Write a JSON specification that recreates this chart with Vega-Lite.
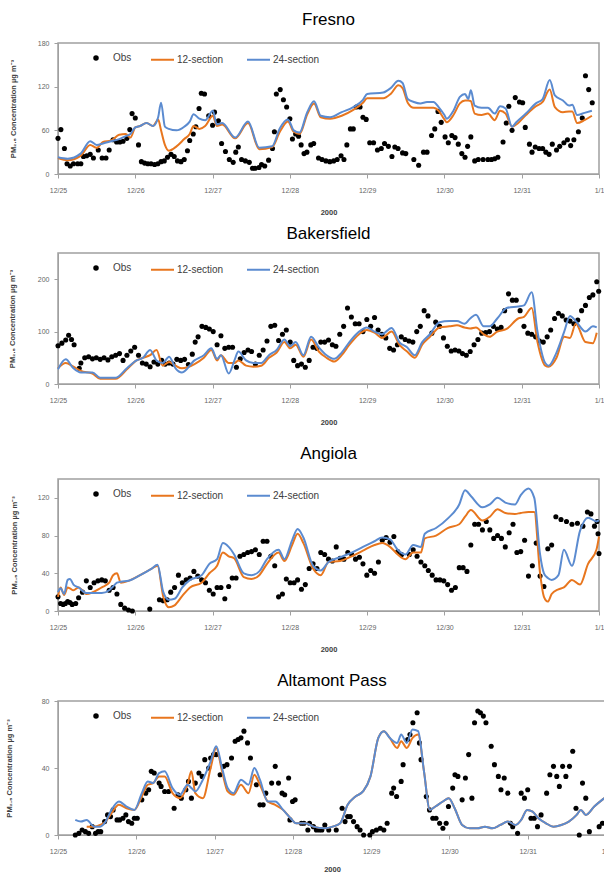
{
"$schema": "https://vega.github.io/schema/vega-lite/v6.json",
"padding": {"left": 4, "top": 10, "right": 0, "bottom": 0},
"config": {
  "font": "Liberation Sans",
  "view": {"stroke": "#a0a0a0", "strokeWidth": 1.5},
  "title": {"font": "Liberation Sans", "fontSize": 17, "fontWeight": "normal", "color": "#000000"},
  "axis": {"labelFont": "Liberation Sans", "labelFontSize": 7, "labelColor": "#666666", "titleFont": "Liberation Sans", "titleFontSize": 7.5, "titleFontWeight": "bold", "titleColor": "#404040", "tickColor": "#a0a0a0", "domainColor": "#a0a0a0", "grid": false, "tickSize": 4},
  "legend": {"padding": 0, "labelFont": "Liberation Sans", "labelFontSize": 10, "labelColor": "#404040"}
},
"datasets": {
"f_o": [{"t":0,"v":49},{"t":0.9,"v":61},{"t":2,"v":35},{"t":2.8,"v":14},{"t":3.8,"v":11},{"t":4.8,"v":14},{"t":6.1,"v":14},{"t":7.1,"v":14},{"t":7.9,"v":24},{"t":8.9,"v":25},{"t":10,"v":27},{"t":11,"v":22},{"t":12.5,"v":33},{"t":13.7,"v":22},{"t":14.9,"v":22},{"t":15.9,"v":33},{"t":17.1,"v":47},{"t":18.2,"v":44},{"t":19.2,"v":44},{"t":20.2,"v":45},{"t":21.4,"v":49},{"t":22.3,"v":61},{"t":23,"v":83},{"t":24,"v":77},{"t":25,"v":40},{"t":25.9,"v":17},{"t":26.9,"v":15},{"t":27.9,"v":14},{"t":28.9,"v":14},{"t":30,"v":13},{"t":31,"v":14},{"t":32,"v":17},{"t":33,"v":18},{"t":34,"v":23},{"t":35.1,"v":27},{"t":36.1,"v":24},{"t":37.1,"v":18},{"t":38.2,"v":17},{"t":39.2,"v":20},{"t":40.2,"v":32},{"t":40.9,"v":46},{"t":42,"v":55},{"t":42.8,"v":65},{"t":43.8,"v":90},{"t":44.5,"v":111},{"t":45.5,"v":110},{"t":46.8,"v":80},{"t":48,"v":67},{"t":48.6,"v":85},{"t":49.8,"v":73},{"t":50.8,"v":42},{"t":52,"v":31},{"t":53.2,"v":20},{"t":54.4,"v":16},{"t":55.2,"v":30},{"t":56,"v":37},{"t":57,"v":20},{"t":58.2,"v":18},{"t":59.4,"v":16},{"t":60.4,"v":8},{"t":61.2,"v":8},{"t":62.4,"v":9},{"t":63.2,"v":13},{"t":64.2,"v":11},{"t":65.4,"v":19},{"t":66.6,"v":35},{"t":67.2,"v":58},{"t":67.8,"v":110},{"t":69,"v":116},{"t":70,"v":102},{"t":71,"v":92},{"t":72,"v":76},{"t":72.8,"v":48},{"t":73.8,"v":55},{"t":74.7,"v":52},{"t":75.5,"v":40},{"t":76.4,"v":28},{"t":77.3,"v":30},{"t":78.5,"v":40},{"t":79.4,"v":42},{"t":80.9,"v":22},{"t":82,"v":20},{"t":83.2,"v":18},{"t":84.4,"v":17},{"t":85.6,"v":18},{"t":86.7,"v":20},{"t":87.9,"v":25},{"t":88.8,"v":20},{"t":89.7,"v":40},{"t":90.8,"v":62},{"t":91.7,"v":62},{"t":92.6,"v":92},{"t":93.8,"v":92},{"t":94.7,"v":78},{"t":95.7,"v":75},{"t":96.8,"v":43},{"t":98,"v":43},{"t":99.2,"v":33},{"t":100.4,"v":35},{"t":101.4,"v":42},{"t":102.6,"v":38},{"t":103.7,"v":24},{"t":104.6,"v":37},{"t":105.6,"v":35},{"t":107,"v":29},{"t":108,"v":28},{"t":110.5,"v":20},{"t":112,"v":12},{"t":113.5,"v":30},{"t":114.6,"v":30},{"t":116,"v":53},{"t":117,"v":62},{"t":118,"v":86},{"t":119,"v":71},{"t":120.2,"v":51},{"t":121.2,"v":43},{"t":122.3,"v":53},{"t":123.3,"v":50},{"t":124.3,"v":41},{"t":125.4,"v":28},{"t":126.4,"v":23},{"t":127.2,"v":38},{"t":128.2,"v":51},{"t":129.4,"v":18},{"t":130.5,"v":20},{"t":132,"v":20},{"t":133.5,"v":20},{"t":134.6,"v":20},{"t":135.6,"v":21},{"t":136.6,"v":23},{"t":138.2,"v":44},{"t":139.2,"v":70},{"t":140,"v":93},{"t":141,"v":60},{"t":142,"v":105},{"t":143.3,"v":99},{"t":144.3,"v":98},{"t":145.1,"v":64},{"t":146.4,"v":41},{"t":147.2,"v":30},{"t":148.2,"v":37},{"t":149.4,"v":35},{"t":150.5,"v":35},{"t":151.5,"v":30},{"t":152.5,"v":27},{"t":153.5,"v":41},{"t":154.8,"v":33},{"t":155.8,"v":38},{"t":157.1,"v":43},{"t":158.2,"v":47},{"t":159.2,"v":39},{"t":160.2,"v":47},{"t":161.6,"v":58},{"t":162.8,"v":77},{"t":163.8,"v":135},{"t":164.8,"v":116},{"t":165.9,"v":98}],
"f_m": [{"t":0,"a":22,"b":23},{"t":3,"a":19,"b":21},{"t":7,"a":25,"b":28},{"t":10,"a":40,"b":45},{"t":12,"a":36,"b":40},{"t":14,"a":44,"b":42},{"t":16.5,"a":46,"b":45},{"t":19,"a":54,"b":48},{"t":21,"a":55,"b":52},{"t":22.5,"a":50,"b":55},{"t":24,"a":64,"b":64},{"t":25.5,"a":66,"b":66},{"t":27.5,"a":70,"b":70},{"t":29.5,"a":66,"b":66},{"t":31.1,"a":75,"b":78},{"t":32,"a":60,"b":98},{"t":33.2,"a":40,"b":65},{"t":34.4,"a":32,"b":62},{"t":36.8,"a":38,"b":60},{"t":39.2,"a":48,"b":65},{"t":40.9,"a":55,"b":72},{"t":42.1,"a":66,"b":82},{"t":43.9,"a":62,"b":76},{"t":45.7,"a":66,"b":74},{"t":48.1,"a":80,"b":87},{"t":49.3,"a":66,"b":68},{"t":51,"a":68,"b":70},{"t":55,"a":49,"b":50},{"t":59,"a":70,"b":72},{"t":62.5,"a":34,"b":36},{"t":66.5,"a":37,"b":38},{"t":68.9,"a":58,"b":63},{"t":71.4,"a":72,"b":75},{"t":73.2,"a":58,"b":60},{"t":75,"a":55,"b":57},{"t":77.4,"a":82,"b":85},{"t":79.5,"a":97,"b":100},{"t":81.6,"a":78,"b":80},{"t":84.5,"a":76,"b":78},{"t":88.1,"a":80,"b":85},{"t":91.7,"a":88,"b":92},{"t":94.7,"a":98,"b":102},{"t":96,"a":104,"b":110},{"t":101,"a":104,"b":112},{"t":103.3,"a":110,"b":118},{"t":105.7,"a":122,"b":128},{"t":107,"a":118,"b":125},{"t":108.6,"a":98,"b":103},{"t":110.5,"a":91,"b":99},{"t":112.5,"a":91,"b":97},{"t":114.6,"a":91,"b":99},{"t":116.6,"a":91,"b":99},{"t":118.2,"a":87,"b":92},{"t":120,"a":75,"b":81},{"t":120.7,"a":71,"b":76},{"t":122.8,"a":81,"b":87},{"t":124.8,"a":97,"b":106},{"t":126.4,"a":101,"b":110},{"t":127.4,"a":101,"b":103},{"t":128.2,"a":100,"b":115},{"t":129.4,"a":83,"b":94},{"t":131.5,"a":81,"b":91},{"t":133.5,"a":83,"b":91},{"t":135.6,"a":74,"b":83},{"t":137.3,"a":87,"b":93},{"t":139,"a":83,"b":90},{"t":141,"a":65,"b":65},{"t":142.3,"a":68,"b":71},{"t":145.3,"a":81,"b":83},{"t":148.4,"a":93,"b":97},{"t":150.5,"a":99,"b":103},{"t":152.7,"a":116,"b":129},{"t":154.3,"a":92,"b":108},{"t":156.8,"a":85,"b":101},{"t":158.7,"a":86,"b":94},{"t":159.7,"a":86,"b":95},{"t":161.2,"a":70,"b":81},{"t":163.5,"a":74,"b":84},{"t":165.8,"a":80,"b":87}],
"b_o": [{"t":0,"v":73},{"t":1.2,"v":78},{"t":2.4,"v":84},{"t":3.3,"v":93},{"t":4.2,"v":85},{"t":5,"v":75},{"t":6.6,"v":30},{"t":7.1,"v":40},{"t":8.3,"v":50},{"t":9.5,"v":52},{"t":10.7,"v":48},{"t":11.9,"v":50},{"t":13.1,"v":47},{"t":14.3,"v":50},{"t":15.5,"v":46},{"t":16.7,"v":52},{"t":17.9,"v":55},{"t":19.1,"v":58},{"t":20.2,"v":45},{"t":21.4,"v":55},{"t":22.6,"v":63},{"t":23.8,"v":70},{"t":25,"v":55},{"t":26.2,"v":40},{"t":27.4,"v":38},{"t":28.6,"v":33},{"t":29.8,"v":42},{"t":31,"v":38},{"t":32.2,"v":45},{"t":33.3,"v":38},{"t":34.5,"v":40},{"t":35.7,"v":38},{"t":36.9,"v":47},{"t":38.1,"v":45},{"t":39.3,"v":47},{"t":40.5,"v":37},{"t":41.7,"v":57},{"t":42.6,"v":80},{"t":43.5,"v":90},{"t":44.7,"v":110},{"t":45.9,"v":108},{"t":47,"v":105},{"t":48.2,"v":100},{"t":49.4,"v":75},{"t":50.6,"v":92},{"t":51.8,"v":68},{"t":53,"v":70},{"t":54.2,"v":70},{"t":55.4,"v":32},{"t":56.6,"v":48},{"t":57.8,"v":60},{"t":59,"v":65},{"t":60.1,"v":62},{"t":61.3,"v":38},{"t":62.5,"v":55},{"t":63.7,"v":65},{"t":64.9,"v":82},{"t":66.1,"v":110},{"t":67.3,"v":112},{"t":68.5,"v":83},{"t":69.7,"v":95},{"t":70.9,"v":103},{"t":72.1,"v":80},{"t":73.2,"v":45},{"t":74.4,"v":35},{"t":75.6,"v":38},{"t":76.8,"v":32},{"t":78,"v":45},{"t":79.2,"v":70},{"t":80.4,"v":68},{"t":81.6,"v":80},{"t":82.8,"v":80},{"t":84,"v":84},{"t":85.2,"v":75},{"t":86.3,"v":72},{"t":87.5,"v":95},{"t":88.7,"v":110},{"t":89.9,"v":145},{"t":91.1,"v":128},{"t":92.3,"v":115},{"t":93.5,"v":115},{"t":94.7,"v":100},{"t":95.9,"v":123},{"t":97.1,"v":110},{"t":98.3,"v":127},{"t":99.4,"v":103},{"t":100.6,"v":95},{"t":101.8,"v":88},{"t":103,"v":68},{"t":104.2,"v":65},{"t":105.4,"v":75},{"t":106.6,"v":90},{"t":107.8,"v":85},{"t":109,"v":82},{"t":110.2,"v":80},{"t":111.4,"v":100},{"t":112.5,"v":110},{"t":113.7,"v":140},{"t":114.9,"v":130},{"t":116.1,"v":97},{"t":117.3,"v":118},{"t":118.5,"v":110},{"t":119.7,"v":88},{"t":120.9,"v":72},{"t":122.1,"v":63},{"t":123.3,"v":65},{"t":124.5,"v":63},{"t":125.6,"v":58},{"t":126.8,"v":55},{"t":128,"v":62},{"t":129.2,"v":75},{"t":130.4,"v":85},{"t":131.6,"v":97},{"t":132.8,"v":98},{"t":134,"v":100},{"t":135.2,"v":110},{"t":136.4,"v":105},{"t":137.6,"v":108},{"t":138.7,"v":140},{"t":139.9,"v":172},{"t":141.1,"v":160},{"t":142.3,"v":160},{"t":143.5,"v":140},{"t":144.7,"v":110},{"t":145.9,"v":97},{"t":147.1,"v":95},{"t":148.3,"v":90},{"t":149.5,"v":82},{"t":150.7,"v":80},{"t":151.9,"v":90},{"t":153,"v":103},{"t":154.2,"v":125},{"t":155.4,"v":135},{"t":156.6,"v":130},{"t":157.8,"v":122},{"t":159,"v":120},{"t":160.2,"v":115},{"t":161.4,"v":122},{"t":162.6,"v":140},{"t":163.8,"v":150},{"t":165,"v":165},{"t":166.1,"v":170},{"t":167.3,"v":195},{"t":167.9,"v":177}],
"b_m": [{"t":0,"a":30,"b":28},{"t":2.4,"a":40,"b":47},{"t":4.8,"a":33,"b":30},{"t":7.1,"a":25,"b":22},{"t":10.7,"a":20,"b":22},{"t":13.1,"a":10,"b":12},{"t":17.9,"a":10,"b":12},{"t":21.4,"a":28,"b":30},{"t":24.4,"a":45,"b":45},{"t":26.4,"a":50,"b":50},{"t":28.6,"a":55,"b":65},{"t":30.6,"a":65,"b":45},{"t":32.5,"a":35,"b":40},{"t":34.5,"a":42,"b":52},{"t":36.5,"a":35,"b":30},{"t":38.5,"a":30,"b":22},{"t":42.4,"a":38,"b":45},{"t":45.3,"a":50,"b":55},{"t":47.6,"a":65,"b":68},{"t":49.4,"a":45,"b":48},{"t":50.6,"a":55,"b":55},{"t":53,"a":40,"b":20},{"t":54.8,"a":40,"b":45},{"t":56,"a":45,"b":62},{"t":58.4,"a":35,"b":45},{"t":60.7,"a":33,"b":40},{"t":63.1,"a":35,"b":40},{"t":65.5,"a":50,"b":55},{"t":67.9,"a":60,"b":65},{"t":70.3,"a":80,"b":85},{"t":72.1,"a":68,"b":72},{"t":73.8,"a":75,"b":80},{"t":76.2,"a":52,"b":55},{"t":78.6,"a":85,"b":90},{"t":81,"a":62,"b":70},{"t":83.4,"a":50,"b":55},{"t":85.8,"a":43,"b":48},{"t":88.1,"a":55,"b":60},{"t":90.5,"a":75,"b":80},{"t":93.5,"a":95,"b":100},{"t":95.9,"a":103,"b":108},{"t":98.3,"a":98,"b":100},{"t":100.6,"a":88,"b":95},{"t":103.6,"a":100,"b":107},{"t":106,"a":75,"b":80},{"t":108.4,"a":62,"b":70},{"t":110.8,"a":50,"b":55},{"t":113.1,"a":75,"b":80},{"t":115.5,"a":90,"b":95},{"t":118.5,"a":108,"b":118},{"t":121.5,"a":110,"b":120},{"t":123.9,"a":112,"b":120},{"t":126.2,"a":108,"b":115},{"t":128,"a":106,"b":125},{"t":129.8,"a":108,"b":132},{"t":132.2,"a":95,"b":110},{"t":134,"a":90,"b":110},{"t":136.4,"a":100,"b":125},{"t":139.3,"a":105,"b":145},{"t":142.9,"a":125,"b":148},{"t":144.7,"a":128,"b":150},{"t":147.1,"a":145,"b":175},{"t":148.9,"a":80,"b":100},{"t":151.3,"a":35,"b":40},{"t":152.4,"a":33,"b":35},{"t":154.8,"a":50,"b":60},{"t":157.2,"a":90,"b":100},{"t":159,"a":88,"b":130},{"t":160.8,"a":115,"b":120},{"t":163.8,"a":80,"b":100},{"t":166.1,"a":78,"b":110},{"t":167.3,"a":98,"b":108}],
"a_o": [{"t":0,"v":15},{"t":0.8,"v":8},{"t":1.6,"v":7},{"t":2.3,"v":8},{"t":3,"v":10},{"t":3.7,"v":9},{"t":4.4,"v":7},{"t":5.5,"v":8},{"t":6.4,"v":14},{"t":7.6,"v":20},{"t":8.8,"v":32},{"t":10,"v":25},{"t":11.2,"v":30},{"t":12.4,"v":32},{"t":13.6,"v":33},{"t":14.7,"v":32},{"t":15.9,"v":22},{"t":17.1,"v":25},{"t":18.3,"v":18},{"t":19.5,"v":7},{"t":20.7,"v":3},{"t":21.9,"v":1},{"t":23.1,"v":0},{"t":28.5,"v":2},{"t":31.5,"v":12},{"t":32.7,"v":11},{"t":33.9,"v":12},{"t":35,"v":20},{"t":36.2,"v":25},{"t":37.4,"v":38},{"t":38.6,"v":30},{"t":39.8,"v":33},{"t":41,"v":35},{"t":42.2,"v":42},{"t":43.4,"v":37},{"t":44.6,"v":33},{"t":45.8,"v":30},{"t":47,"v":22},{"t":48.2,"v":18},{"t":49.4,"v":25},{"t":50.6,"v":25},{"t":51.8,"v":13},{"t":53,"v":26},{"t":54.1,"v":35},{"t":55.3,"v":35},{"t":56.5,"v":58},{"t":57.7,"v":60},{"t":58.9,"v":62},{"t":60.1,"v":63},{"t":61.3,"v":65},{"t":62.5,"v":60},{"t":63.7,"v":74},{"t":64.9,"v":74},{"t":66.1,"v":58},{"t":67.3,"v":48},{"t":68.5,"v":15},{"t":69.7,"v":18},{"t":70.9,"v":34},{"t":72.1,"v":30},{"t":73.3,"v":30},{"t":74.4,"v":33},{"t":75.6,"v":23},{"t":76.8,"v":28},{"t":78,"v":45},{"t":79.2,"v":50},{"t":80.4,"v":45},{"t":81.6,"v":62},{"t":82.8,"v":60},{"t":84,"v":55},{"t":85.2,"v":53},{"t":86.4,"v":68},{"t":87.6,"v":56},{"t":88.8,"v":55},{"t":90,"v":62},{"t":91.2,"v":60},{"t":92.4,"v":55},{"t":93.6,"v":57},{"t":94.7,"v":50},{"t":95.9,"v":38},{"t":97.1,"v":43},{"t":98.3,"v":40},{"t":99.5,"v":52},{"t":100.7,"v":75},{"t":101.9,"v":78},{"t":103.1,"v":73},{"t":104.3,"v":79},{"t":105.5,"v":63},{"t":106.7,"v":60},{"t":109.1,"v":60},{"t":110.3,"v":65},{"t":111.5,"v":58},{"t":112.7,"v":52},{"t":113.9,"v":48},{"t":115,"v":43},{"t":116.2,"v":38},{"t":117.4,"v":33},{"t":118.6,"v":33},{"t":119.8,"v":32},{"t":121,"v":28},{"t":122.2,"v":22},{"t":123.4,"v":25},{"t":124.6,"v":46},{"t":125.8,"v":46},{"t":127,"v":42},{"t":128.2,"v":70},{"t":129.4,"v":92},{"t":130.6,"v":92},{"t":131.8,"v":86},{"t":133,"v":95},{"t":134.1,"v":86},{"t":135.3,"v":77},{"t":136.5,"v":80},{"t":137.7,"v":77},{"t":138.9,"v":68},{"t":140.1,"v":83},{"t":141.3,"v":92},{"t":142.5,"v":62},{"t":143.7,"v":63},{"t":144.9,"v":75},{"t":146.1,"v":37},{"t":147.3,"v":48},{"t":148.5,"v":72},{"t":149.7,"v":37},{"t":150.9,"v":26},{"t":152.1,"v":66},{"t":153.3,"v":70},{"t":154.6,"v":100},{"t":156.2,"v":97},{"t":157.9,"v":95},{"t":159.6,"v":92},{"t":161.3,"v":93},{"t":163,"v":90},{"t":164.4,"v":105},{"t":165.5,"v":103},{"t":166.6,"v":90},{"t":167.4,"v":95},{"t":167.7,"v":82},{"t":168,"v":61}],
"a_m": [{"t":0,"a":15,"b":20},{"t":0.8,"a":25,"b":24},{"t":1.9,"a":17,"b":18},{"t":3,"a":25,"b":33},{"t":3.7,"a":24,"b":34},{"t":4.8,"a":22,"b":28},{"t":6.4,"a":25,"b":25},{"t":8.8,"a":18,"b":19},{"t":13.6,"a":25,"b":19},{"t":15.9,"a":30,"b":22},{"t":17.1,"a":38,"b":26},{"t":18.3,"a":40,"b":30},{"t":19.5,"a":30,"b":31},{"t":21.9,"a":32,"b":32},{"t":25.5,"a":38,"b":38},{"t":29.1,"a":45,"b":45},{"t":30.9,"a":48,"b":49},{"t":32.7,"a":15,"b":20},{"t":34.4,"a":4,"b":12},{"t":36.2,"a":6,"b":13},{"t":38.6,"a":16,"b":25},{"t":41,"a":25,"b":33},{"t":44.6,"a":30,"b":38},{"t":47,"a":40,"b":50},{"t":49.4,"a":48,"b":55},{"t":51.2,"a":62,"b":72},{"t":53,"a":58,"b":68},{"t":54.7,"a":56,"b":60},{"t":57.7,"a":36,"b":40},{"t":60.1,"a":34,"b":38},{"t":62.5,"a":38,"b":42},{"t":64.9,"a":50,"b":55},{"t":68.5,"a":62,"b":65},{"t":70.3,"a":53,"b":55},{"t":72.7,"a":70,"b":75},{"t":74.4,"a":82,"b":87},{"t":76.2,"a":72,"b":78},{"t":79.2,"a":45,"b":48},{"t":81.6,"a":38,"b":43},{"t":84,"a":52,"b":52},{"t":87.6,"a":53,"b":57},{"t":91.2,"a":58,"b":62},{"t":94.7,"a":64,"b":68},{"t":98.3,"a":70,"b":74},{"t":100.7,"a":72,"b":78},{"t":103.1,"a":68,"b":76},{"t":105.5,"a":60,"b":65},{"t":107.9,"a":55,"b":60},{"t":110.3,"a":62,"b":70},{"t":112.7,"a":62,"b":68},{"t":113.9,"a":77,"b":82},{"t":117.4,"a":80,"b":88},{"t":121,"a":88,"b":98},{"t":124.6,"a":92,"b":113},{"t":126.4,"a":100,"b":128},{"t":128.2,"a":107,"b":122},{"t":131.8,"a":96,"b":110},{"t":134.1,"a":100,"b":113},{"t":136.5,"a":108,"b":120},{"t":138.9,"a":104,"b":115},{"t":141.9,"a":103,"b":113},{"t":143.7,"a":104,"b":123},{"t":146.1,"a":105,"b":130},{"t":147.9,"a":105,"b":120},{"t":149.7,"a":40,"b":60},{"t":150.9,"a":15,"b":40},{"t":152.1,"a":10,"b":35},{"t":153.3,"a":18,"b":33},{"t":155.4,"a":23,"b":38},{"t":157.1,"a":25,"b":65},{"t":159.6,"a":33,"b":48},{"t":162.1,"a":28,"b":85},{"t":164.6,"a":50,"b":99},{"t":167.2,"a":65,"b":95},{"t":168,"a":79,"b":96}],
"t_o": [{"t":5.3,"v":0},{"t":6.4,"v":1},{"t":7.4,"v":3},{"t":8.4,"v":2},{"t":9.4,"v":1},{"t":10.5,"v":5},{"t":11.5,"v":1},{"t":12.3,"v":2},{"t":13.1,"v":2},{"t":14.3,"v":8},{"t":15.2,"v":12},{"t":16.1,"v":11},{"t":16.9,"v":15},{"t":18.1,"v":9},{"t":18.9,"v":9},{"t":19.9,"v":10},{"t":20.8,"v":12},{"t":21.6,"v":8},{"t":22.6,"v":7},{"t":23.4,"v":10},{"t":24.3,"v":10},{"t":25.7,"v":21},{"t":26.9,"v":25},{"t":27.8,"v":27},{"t":28.6,"v":38},{"t":29.5,"v":37},{"t":31,"v":31},{"t":31.6,"v":29},{"t":32.7,"v":26},{"t":33.9,"v":26},{"t":35.6,"v":16},{"t":36.8,"v":24},{"t":37.8,"v":22},{"t":39.2,"v":27},{"t":40,"v":32},{"t":40.9,"v":22},{"t":42.1,"v":31},{"t":43.2,"v":37},{"t":44.2,"v":35},{"t":45,"v":45},{"t":46.2,"v":40},{"t":46.8,"v":46},{"t":47.7,"v":48},{"t":48.5,"v":48},{"t":49.7,"v":36},{"t":50.8,"v":41},{"t":51.8,"v":42},{"t":53.2,"v":46},{"t":54.3,"v":56},{"t":55.2,"v":57},{"t":56.1,"v":58},{"t":57,"v":62},{"t":58.1,"v":55},{"t":59,"v":46},{"t":60.8,"v":30},{"t":61.9,"v":18},{"t":62.9,"v":18},{"t":63.7,"v":25},{"t":65.5,"v":31},{"t":66.6,"v":41},{"t":67.6,"v":31},{"t":68.7,"v":25},{"t":69.5,"v":24},{"t":70.7,"v":34},{"t":71.1,"v":9},{"t":71.9,"v":20},{"t":72.7,"v":21},{"t":74.6,"v":7},{"t":75.4,"v":7},{"t":76.6,"v":3},{"t":77.1,"v":7},{"t":78.3,"v":5},{"t":79.2,"v":3},{"t":80.1,"v":3},{"t":80.9,"v":3},{"t":81.8,"v":6},{"t":83,"v":3},{"t":85.3,"v":3},{"t":87.1,"v":16},{"t":88,"v":8},{"t":88.8,"v":11},{"t":89.6,"v":11},{"t":90.6,"v":8},{"t":91.7,"v":5},{"t":92.6,"v":3},{"t":93.7,"v":0},{"t":95.6,"v":0},{"t":96.4,"v":2},{"t":97.6,"v":3},{"t":98.8,"v":4},{"t":99.9,"v":3},{"t":100.9,"v":7},{"t":102.3,"v":25},{"t":102.9,"v":28},{"t":103.8,"v":23},{"t":105.2,"v":32},{"t":105.8,"v":42},{"t":107.2,"v":57},{"t":107.9,"v":60},{"t":108.8,"v":67},{"t":110.1,"v":73},{"t":110.8,"v":55},{"t":111.3,"v":45},{"t":112.9,"v":23},{"t":113.9,"v":15},{"t":114.9,"v":10},{"t":115.9,"v":10},{"t":117,"v":7},{"t":118,"v":4},{"t":119,"v":7},{"t":119.7,"v":17},{"t":121,"v":28},{"t":121.7,"v":36},{"t":122.6,"v":35},{"t":123.9,"v":21},{"t":124.9,"v":34},{"t":125.9,"v":48},{"t":126.9,"v":22},{"t":127.7,"v":67},{"t":128.7,"v":74},{"t":129.5,"v":73},{"t":130.4,"v":71},{"t":131.2,"v":67},{"t":132.8,"v":53},{"t":133.8,"v":42},{"t":135,"v":35},{"t":135.8,"v":27},{"t":136.8,"v":34},{"t":137.9,"v":25},{"t":138.7,"v":7},{"t":139.4,"v":5},{"t":140.9,"v":1},{"t":142,"v":25},{"t":143,"v":22},{"t":144,"v":27},{"t":145,"v":10},{"t":146,"v":10},{"t":147,"v":5},{"t":148.1,"v":12},{"t":149.8,"v":25},{"t":150.8,"v":36},{"t":151.9,"v":41},{"t":152.9,"v":35},{"t":153.7,"v":29},{"t":154.7,"v":41},{"t":155.7,"v":35},{"t":156.8,"v":41},{"t":157.8,"v":50},{"t":158.8,"v":16},{"t":159.8,"v":0},{"t":160.8,"v":31},{"t":161.8,"v":22},{"t":162.9,"v":2},{"t":165.9,"v":5},{"t":166.9,"v":7}],
"t_m": [{"t":5.3,"a":null,"b":9},{"t":7,"a":null,"b":8},{"t":8.8,"a":5,"b":9},{"t":11.1,"a":5,"b":5},{"t":12.9,"a":6,"b":5},{"t":14.6,"a":8,"b":8},{"t":16.4,"a":13,"b":15},{"t":18.7,"a":18,"b":20},{"t":21,"a":16,"b":17},{"t":23.4,"a":15,"b":15},{"t":25.7,"a":23,"b":25},{"t":27.5,"a":30,"b":32},{"t":29.2,"a":31,"b":31},{"t":31,"a":35,"b":37},{"t":32.7,"a":35,"b":38},{"t":35.1,"a":25,"b":28},{"t":37.4,"a":22,"b":24},{"t":39.7,"a":30,"b":30},{"t":40.9,"a":38,"b":28},{"t":42.1,"a":25,"b":26},{"t":44.4,"a":22,"b":33},{"t":46.8,"a":40,"b":44},{"t":48.5,"a":52,"b":53},{"t":50.3,"a":38,"b":40},{"t":52,"a":26,"b":28},{"t":53.8,"a":24,"b":25},{"t":56.1,"a":30,"b":33},{"t":58.4,"a":25,"b":30},{"t":60.2,"a":36,"b":40},{"t":61.9,"a":30,"b":33},{"t":64.3,"a":20,"b":20},{"t":66.6,"a":18,"b":20},{"t":69,"a":15,"b":15},{"t":71.3,"a":10,"b":10},{"t":73,"a":7,"b":7},{"t":76,"a":7,"b":7},{"t":78.3,"a":5,"b":5},{"t":81.8,"a":4,"b":4},{"t":84.2,"a":5,"b":5},{"t":86.5,"a":7,"b":7},{"t":88.8,"a":18,"b":18},{"t":91.2,"a":23,"b":23},{"t":93.5,"a":26,"b":26},{"t":95.8,"a":35,"b":35},{"t":98.2,"a":58,"b":58},{"t":99.9,"a":62,"b":62},{"t":101.7,"a":58,"b":58},{"t":104,"a":52,"b":55},{"t":105.2,"a":56,"b":60},{"t":106.9,"a":52,"b":55},{"t":108.7,"a":58,"b":63},{"t":110.4,"a":60,"b":62},{"t":112.2,"a":38,"b":38},{"t":114,"a":15,"b":15},{"t":115.7,"a":17,"b":17},{"t":118,"a":20,"b":20},{"t":119.8,"a":22,"b":22},{"t":121.6,"a":16,"b":16},{"t":123.9,"a":6,"b":6},{"t":126.2,"a":4,"b":4},{"t":128.6,"a":4,"b":4},{"t":130.9,"a":5,"b":5},{"t":133.2,"a":4,"b":4},{"t":135.6,"a":6,"b":6},{"t":137.9,"a":8,"b":8},{"t":140.3,"a":6,"b":6},{"t":142,"a":9,"b":9},{"t":143.8,"a":15,"b":15},{"t":145.5,"a":14,"b":14},{"t":147.3,"a":10,"b":10},{"t":149.6,"a":7,"b":7},{"t":151.9,"a":5,"b":5},{"t":154.3,"a":6,"b":6},{"t":156.6,"a":8,"b":8},{"t":159,"a":12,"b":12},{"t":160.3,"a":15,"b":15},{"t":161.8,"a":12,"b":12},{"t":164.4,"a":17,"b":17},{"t":167.5,"a":22,"b":22}]
},
"concat": [
{
 "title": {"text": "Fresno", "offset": 10},
 "width": 541, "height": 131,
 "layer": [
  {"data": {"name": "f_o"}, "mark": {"type": "point", "filled": true, "size": 26, "opacity": 1},
   "encoding": {
    "x": {"field": "t", "type": "quantitative", "scale": {"domain": [0, 168], "nice": false, "zero": false}, "axis": {"values": [0,24,48,72,96,120,144,168], "labelExpr": "['12/25','12/26','12/27','12/28','12/29','12/30','12/31','1/1'][round(datum.value/24)]", "title": "2000", "labelPadding": 8, "titlePadding": 15, "labelFlush": false, "labelOverlap": false}},
    "y": {"field": "v", "type": "quantitative", "title": "PM₂.₅ Concentration µg m⁻³", "scale": {"domain": [0, 180], "nice": false}, "axis": {"values": [0,30,60,90,120,150,180], "minExtent": 31, "maxExtent": 31, "titlePadding": 10, "labelPadding": 5}},
    "fill": {"datum": "Obs", "scale": {"domain": ["Obs"], "range": ["#000000"]}, "legend": {"orient": "none", "legendX": 33, "legendY": 10, "title": null, "symbolType": "circle", "symbolSize": 30, "labelOffset": 12}}
   }},
  {"data": {"name": "f_m"}, "mark": {"type": "line", "strokeWidth": 2, "interpolate": "monotone"},
   "encoding": {"x": {"field": "t", "type": "quantitative"}, "y": {"field": "a", "type": "quantitative", "title": "PM₂.₅ Concentration µg m⁻³"},
    "stroke": {"datum": "12-section", "scale": {"domain": ["12-section","24-section"], "range": ["#E8761E","#5B8BD0"]}, "legend": {"orient": "none", "legendX": 92, "legendY": 4, "direction": "horizontal", "title": null, "symbolType": "stroke", "symbolSize": 529, "symbolStrokeWidth": 2, "labelOffset": 2, "columnPadding": 19}}}},
  {"data": {"name": "f_m"}, "mark": {"type": "line", "strokeWidth": 2, "interpolate": "monotone"},
   "encoding": {"x": {"field": "t", "type": "quantitative"}, "y": {"field": "b", "type": "quantitative", "title": "PM₂.₅ Concentration µg m⁻³"}, "stroke": {"datum": "24-section"}}}
 ]
},
{
 "concat": [
{
 "title": {"text": "Bakersfield", "offset": 10},
 "width": 541, "height": 131,
 "layer": [
  {"data": {"name": "b_o"}, "mark": {"type": "point", "filled": true, "size": 26, "opacity": 1},
   "encoding": {
    "x": {"field": "t", "type": "quantitative", "scale": {"domain": [0, 168], "nice": false, "zero": false}, "axis": {"values": [0,24,48,72,96,120,144,168], "labelExpr": "['12/25','12/26','12/27','12/28','12/29','12/30','12/31','1/1'][round(datum.value/24)]", "title": "2000", "labelPadding": 8, "titlePadding": 15, "labelFlush": false, "labelOverlap": false}},
    "y": {"field": "v", "type": "quantitative", "title": "PM₂.₅ Concentration µg m⁻³", "scale": {"domain": [0, 250], "nice": false}, "axis": {"values": [0,50,100,150,200,250], "minExtent": 32, "maxExtent": 32, "titlePadding": 10, "labelPadding": 5}},
    "fill": {"datum": "Obs", "scale": {"domain": ["Obs"], "range": ["#000000"]}, "legend": {"orient": "none", "legendX": 33, "legendY": 10, "title": null, "symbolType": "circle", "symbolSize": 30, "labelOffset": 12}}
   }},
  {"data": {"name": "b_m"}, "mark": {"type": "line", "strokeWidth": 2, "interpolate": "monotone"},
   "encoding": {"x": {"field": "t", "type": "quantitative"}, "y": {"field": "a", "type": "quantitative", "title": "PM₂.₅ Concentration µg m⁻³"},
    "stroke": {"datum": "12-section", "scale": {"domain": ["12-section","24-section"], "range": ["#E8761E","#5B8BD0"]}, "legend": {"orient": "none", "legendX": 92, "legendY": 4, "direction": "horizontal", "title": null, "symbolType": "stroke", "symbolSize": 529, "symbolStrokeWidth": 2, "labelOffset": 2, "columnPadding": 19}}}},
  {"data": {"name": "b_m"}, "mark": {"type": "line", "strokeWidth": 2, "interpolate": "monotone"},
   "encoding": {"x": {"field": "t", "type": "quantitative"}, "y": {"field": "b", "type": "quantitative", "title": "PM₂.₅ Concentration µg m⁻³"}, "stroke": {"datum": "24-section"}}}
 ]
},
{
 "title": {"text": "Angiola", "offset": 16},
 "width": 541, "height": 132,
 "layer": [
  {"data": {"name": "a_o"}, "mark": {"type": "point", "filled": true, "size": 26, "opacity": 1},
   "encoding": {
    "x": {"field": "t", "type": "quantitative", "scale": {"domain": [0, 168], "nice": false, "zero": false}, "axis": {"values": [0,24,48,72,96,120,144,168], "labelExpr": "['12/25','12/26','12/27','12/28','12/29','12/30','12/31','1/1'][round(datum.value/24)]", "title": "2000", "labelPadding": 8, "titlePadding": 15, "labelFlush": false, "labelOverlap": false}},
    "y": {"field": "v", "type": "quantitative", "title": "PM₂.₅ Concentration µg m⁻³", "scale": {"domain": [0, 140], "nice": false}, "axis": {"values": [0,20,40,60,80,100,120,140], "minExtent": 31, "maxExtent": 31, "titlePadding": 9, "labelPadding": 5}},
    "fill": {"datum": "Obs", "scale": {"domain": ["Obs"], "range": ["#000000"]}, "legend": {"orient": "none", "legendX": 33, "legendY": 10, "title": null, "symbolType": "circle", "symbolSize": 30, "labelOffset": 12}}
   }},
  {"data": {"name": "a_m"}, "mark": {"type": "line", "strokeWidth": 2, "interpolate": "monotone"},
   "encoding": {"x": {"field": "t", "type": "quantitative"}, "y": {"field": "a", "type": "quantitative", "title": "PM₂.₅ Concentration µg m⁻³"},
    "stroke": {"datum": "12-section", "scale": {"domain": ["12-section","24-section"], "range": ["#E8761E","#5B8BD0"]}, "legend": {"orient": "none", "legendX": 92, "legendY": 4, "direction": "horizontal", "title": null, "symbolType": "stroke", "symbolSize": 529, "symbolStrokeWidth": 2, "labelOffset": 2, "columnPadding": 19}}}},
  {"data": {"name": "a_m"}, "mark": {"type": "line", "strokeWidth": 2, "interpolate": "monotone"},
   "encoding": {"x": {"field": "t", "type": "quantitative"}, "y": {"field": "b", "type": "quantitative", "title": "PM₂.₅ Concentration µg m⁻³"}, "stroke": {"datum": "24-section"}}}
 ]
},
{
 "title": {"text": "Altamont Pass", "offset": 7},
 "width": 548, "height": 134,
 "layer": [
  {"data": {"name": "t_o"}, "mark": {"type": "point", "filled": true, "size": 26, "opacity": 1},
   "encoding": {
    "x": {"field": "t", "type": "quantitative", "scale": {"domain": [0, 168], "nice": false, "zero": false}, "axis": {"values": [0,24,48,72,96,120,144,168], "labelExpr": "['12/25','12/26','12/27','12/28','12/29','12/30','12/31','1/1'][round(datum.value/24)]", "title": "2000", "labelPadding": 8, "titlePadding": 11, "labelFlush": false, "labelOverlap": false}},
    "y": {"field": "v", "type": "quantitative", "title": "PM₂.₅ Concentration µg m⁻³", "scale": {"domain": [0, 80], "nice": false}, "axis": {"values": [0,10,20,30,40,50,60,70,80], "minExtent": 35, "maxExtent": 35, "titlePadding": 10, "labelPadding": 5}},
    "fill": {"datum": "Obs", "scale": {"domain": ["Obs"], "range": ["#000000"]}, "legend": {"orient": "none", "legendX": 33, "legendY": 10, "title": null, "symbolType": "circle", "symbolSize": 30, "labelOffset": 12}}
   }},
  {"data": {"name": "t_m"}, "mark": {"type": "line", "strokeWidth": 2, "interpolate": "monotone"},
   "encoding": {"x": {"field": "t", "type": "quantitative"}, "y": {"field": "a", "type": "quantitative", "title": "PM₂.₅ Concentration µg m⁻³"},
    "stroke": {"datum": "12-section", "scale": {"domain": ["12-section","24-section"], "range": ["#E8761E","#5B8BD0"]}, "legend": {"orient": "none", "legendX": 92, "legendY": 4, "direction": "horizontal", "title": null, "symbolType": "stroke", "symbolSize": 529, "symbolStrokeWidth": 2, "labelOffset": 2, "columnPadding": 19}}}},
  {"data": {"name": "t_m"}, "mark": {"type": "line", "strokeWidth": 2, "interpolate": "monotone"},
   "encoding": {"x": {"field": "t", "type": "quantitative"}, "y": {"field": "b", "type": "quantitative", "title": "PM₂.₅ Concentration µg m⁻³"}, "stroke": {"datum": "24-section"}}}
 ]
}
 ],
 "columns": 1,
 "align": "none",
 "spacing": 17,
 "resolve": {"scale": {"fill": "independent", "stroke": "independent"}, "legend": {"fill": "independent", "stroke": "independent"}}
}
],
"columns": 1,
"align": "none",
"spacing": 7,
"resolve": {"scale": {"fill": "independent", "stroke": "independent"}, "legend": {"fill": "independent", "stroke": "independent"}}
}
